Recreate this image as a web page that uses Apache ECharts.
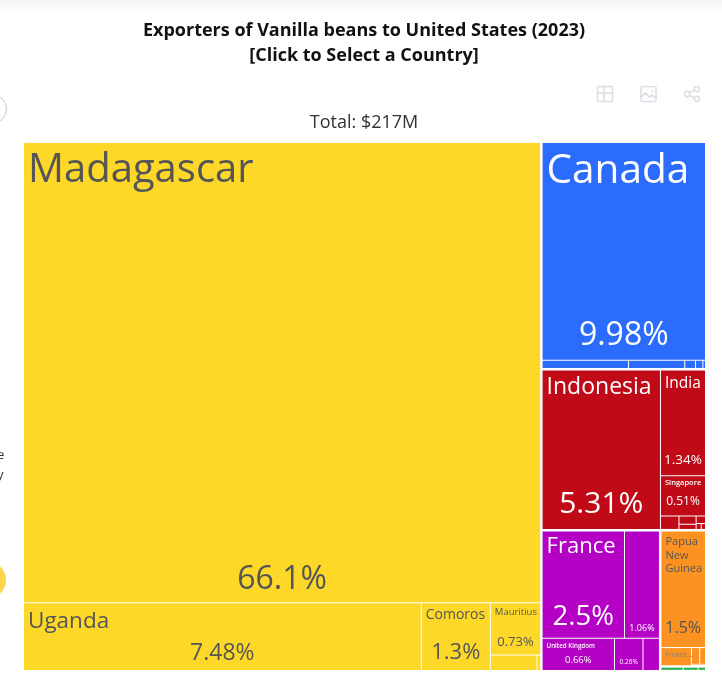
<!DOCTYPE html>
<html><head><meta charset="utf-8">
<style>html,body{margin:0;padding:0;background:#fff}#c{width:722px;height:676px}</style>
<script src="https://cdn.jsdelivr.net/npm/echarts@6/dist/echarts.min.js"></script>
</head><body><div id="c"></div>
<script>
// Shares of total trade (%). Small unlabelled cells carry placeholder names.
const africaNames = ['Madagascar','Uganda','Comoros','Mauritius','Africa other 1','Africa other 2'];
const africaValues = [66.1,7.48,1.3,0.73,0.2,0.015];
const namericaNames = ['Canada','N. America other 1','N. America other 2','N. America other 3','N. America other 4','N. America other 5'];
const namericaValues = [9.98,0.2,0.13,0.025,0.017,0.006];
const asiaNames = ['Indonesia','India','Singapore','Asia other 1','Asia other 2','Asia other 3','Asia other 4','Asia other 5','Asia other 6'];
const asiaValues = [5.31,1.34,0.51,0.07,0.04,0.025,0.02,0.0085,0.007];
const europeNames = ['France','Europe other 1','United Kingdom','Europe other 2','Europe other 3'];
const europeValues = [2.5,1.06,0.66,0.26,0.15];
const oceaniaNames = ['Papua New Guinea','French Polynesia','Oceania other 1','Oceania other 2','Oceania other 3'];
const oceaniaValues = [1.5,0.16,0.04,0.028,0.006];
const samericaNames = ['S. America 1','S. America 2','S. America 3'];
const samericaValues = [0.03,0.02,0.01];
const titleLines = 'Exporters of Vanilla beans to United States (2023)\n[Click to Select a Country]';
const totalLabel = 'Total: $217M';

const DARK='#555555', LIGHT='#ffffff';
// label styling per cell: font size and line height for names; font size and distance from cell bottom for values
const nameStyle = {Madagascar:[40,48],Canada:[40.5,48],Indonesia:[23,26],India:[15.5,18],Singapore:[7.5,5],France:[22,23],
  'United Kingdom':[6.2,7],Uganda:[22.5,28],Comoros:[14,14.5],Mauritius:[9.5,10],'Papua New Guinea':[11,13.5],'French Polynesia':[6.5,7]};
const valueStyle = {Madagascar:[32,6],Canada:[32,8],Indonesia:[30,9],India:[13.5,8],Singapore:[12,8],France:[27.5,7],
  'Europe other 1':[9,5],'United Kingdom':[9.5,5],'Europe other 2':[6.5,4],Uganda:[23,5],Comoros:[22,6],
  Mauritius:[13,6],'Papua New Guinea':[16,11]};

const groups = [
  {names:africaNames,values:africaValues,color:'#fdd828',text:DARK},
  {names:namericaNames,values:namericaValues,color:'#2b6cff',text:LIGHT},
  {names:asiaNames,values:asiaValues,color:'#c10a17',text:LIGHT},
  {names:europeNames,values:europeValues,color:'#b400c4',text:LIGHT},
  {names:oceaniaNames,values:oceaniaValues,color:'#fc9222',text:DARK},
  {names:samericaNames,values:samericaValues,color:'#2ab45a',text:LIGHT}
];
function build(labelFor, fill){
  return groups.map((g,i)=>({
    name:'group'+i,
    itemStyle:{color:fill||g.color},
    children:g.names.map((n,j)=>({
      name:n, value:g.values[j],
      itemStyle:{color:fill||g.color},
      label:labelFor(n,g)
    }))
  }));
}
function nameLabel(n,g){
  const s=nameStyle[n];
  if(!s) return {show:false};
  const l={show:true,fontSize:s[0],color:g.text,lineHeight:s[1],overflow:'none'};
  if(n==='Papua New Guinea'){l.overflow='break';}
  if(n==='French Polynesia'){l.overflow='truncate';l.ellipsis='...';l.color='#a08060';}
  if(s[0]<8){l.fontWeight=600;}
  return l;
}
function valueLabel(n,g){
  const s=valueStyle[n];
  if(!s) return {show:false};
  return {show:true,fontSize:s[0],distance:s[1],color:g.text,overflow:'none'};
}
const common = {
  type:'treemap',left:24,top:143,width:681,height:527,
  roam:false,nodeClick:false,breadcrumb:{show:false},
  visibleMin:0,animation:false,
  upperLabel:{show:false},
  levels:[
    {itemStyle:{gapWidth:2.5,borderWidth:0}},
    {itemStyle:{gapWidth:1,borderWidth:0}},
    {itemStyle:{borderWidth:0,gapWidth:0}}
  ]
};
const FONT='"Open Sans",sans-serif';
const chart = echarts.init(document.getElementById('c'));
chart.setOption({
  animation:false,
  textStyle:{fontFamily:FONT},
  title:[
    {text:titleLines,left:359,top:13,textAlign:'center',
     textStyle:{fontFamily:FONT,fontSize:18,fontWeight:700,color:'#111',lineHeight:25}},
    {text:totalLabel,left:359,top:109,textAlign:'center',
     textStyle:{fontFamily:FONT,fontSize:18,fontWeight:400,color:'#333'}}
  ],
  toolbox:{right:5,top:69,itemSize:15,itemGap:23.5,
    iconStyle:{color:'none',borderColor:'#dadde3',borderWidth:1.5},
    emphasis:{iconStyle:{borderColor:'#b8bec8'}},
    feature:{
      myTable:{show:true,title:'Table',icon:'path://M2 1H14Q15 1 15 2V14Q15 15 14 15H2Q1 15 1 14V2Q1 1 2 1ZM1 7H15M7 7V15M7 1V7',onclick(){}},
      myImage:{show:true,title:'Image',icon:'path://M2 1H14Q15 1 15 2V14Q15 15 14 15H2Q1 15 1 14V2Q1 1 2 1ZM1 11L5 7L9 11L11 9L15 12M11 4.5A.5 .5 0 1 1 11 5.5',onclick(){}},
      myShare:{show:true,title:'Share',icon:'path://M3.5 5.5A2.5 2.5 0 1 1 3.5 10.5A2.5 2.5 0 1 1 3.5 5.5ZM12.5 1A2.5 2.5 0 1 1 12.5 6A2.5 2.5 0 1 1 12.5 1ZM12.5 10A2.5 2.5 0 1 1 12.5 15A2.5 2.5 0 1 1 12.5 10ZM5.7 6.8L10.3 4.2M5.7 9.2L10.3 11.8',onclick(){}}
    }
  },
  graphic:[
    {type:'rect',left:0,top:0,shape:{width:722,height:12},style:{fill:new echarts.graphic.LinearGradient(0,0,0,1,[{offset:0,color:'#f3f3f3'},{offset:1,color:'#ffffff'}])},silent:true,z:-1},
    {type:'circle',shape:{cx:-8,cy:109,r:14.5},style:{fill:'#fff',stroke:'#c8c8c8',lineWidth:1},silent:true},
    {type:'circle',shape:{cx:-12,cy:580,r:18},style:{fill:'#fed546'},silent:true},
    {type:'text',x:-3,y:449,style:{text:'e',font:'13px "Open Sans"',fill:'#333'},silent:true},
    {type:'text',x:-3,y:469,style:{text:'y',font:'13px "Open Sans"',fill:'#333'},silent:true}
  ],
  series:[
    Object.assign({},common,{
      data:build(nameLabel),
      label:{show:true,position:'insideTopLeft',distance:4,padding:0,formatter:'{b}',fontFamily:FONT}
    }),
    Object.assign({},common,{
      silent:true,
      data:build(valueLabel,'rgba(0,0,0,0)'),
      label:{show:true,position:'insideBottom',padding:0,formatter:p=>p.value+'%',fontFamily:FONT}
    })
  ]
});
</script></body></html>
